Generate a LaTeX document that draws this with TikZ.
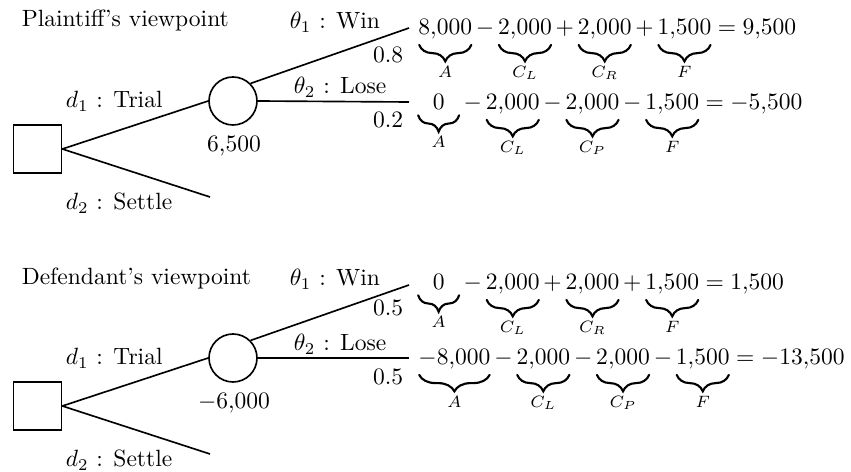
\documentclass[tikz,border=0pt]{standalone}
\usepackage{amsmath}
\usetikzlibrary{decorations.pathreplacing}
\newlength\ubwd
\makeatletter
\newcommand\ubr[2]{\settowidth\ubwd{$\displaystyle#1$}\ifdim\ubwd<18pt \ubwd=18pt\fi
  \mathop{\vtop{\m@th\hbox to\ubwd{\hfil$\displaystyle{#1}$\hfil}\nointerlineskip\kern1.8pt\nointerlineskip
  \hbox to\ubwd{\tikz[x=1pt,y=1pt,line width=0.9pt,line cap=round]{\useasboundingbox (0pt,0.45pt) rectangle (\ubwd,-7.45pt);\draw[decorate,decoration={brace,mirror,amplitude=7pt,aspect=0.5}] (0.3pt,0pt) -- (\ubwd-0.3pt,0pt);}\hss}}}\limits_{#2}}
\makeatother
\begin{document}
\begin{tikzpicture}[x=0.425pt,y=-0.425pt,line width=0.7pt,
  decbox/.style={draw,minimum size=20.4pt,inner sep=0pt},
  chance/.style={draw,circle,minimum size=20.4pt,inner sep=0pt},
  lbl/.style={inner sep=0pt,anchor=base west},
  prob/.style={inner sep=0pt,anchor=base east},
  val/.style={inner sep=0pt,anchor=base}]
\useasboundingbox (0,0) rectangle (851,472);
% ---------- Plaintiff ----------
\node[lbl] (t1) at (21,27) {Plaintiff's viewpoint};
\node[decbox] (s1) at (37.5,149) {};
\node[chance] (c1) at (233,101) {};
\coordinate (e1) at (210,197);
\coordinate (w1) at (409,28);
\coordinate (l1) at (409,102);
\draw (s1.east) -- (c1.west);
\draw (s1.east) -- (e1);
\draw (c1.north east) -- (w1);
\draw (c1.east) -- (l1);
\node[lbl] (dt1) at (65,108) {$d_1$ : Trial};
\node[lbl] (ds1) at (65,210) {$d_2$ : Settle};
\node[val] (v1) at (234,152) {6,500};
\node[lbl] (pw1) at (289,29) {$\theta_1$ : Win};
\node[lbl] (pl1) at (293,94) {$\theta_2$ : Lose};
\node[prob] (pa1) at (404,63) {0.8};
\node[prob] (pb1) at (404,128) {0.2};
\node[lbl] (ra1) at (418,35) {$\ubr{8{,}000}{A} - \ubr{2{,}000}{C_L} + \ubr{2{,}000}{C_R} + \ubr{1{,}500}{F} = 9{,}500$};
\node[lbl] (rb1) at (417,110) {$\ubr{0}{A} - \ubr{2{,}000}{C_L} - \ubr{2{,}000}{C_P} - \ubr{1{,}500}{F} = -5{,}500$};
% ---------- Defendant ----------
\node[lbl] (t2) at (21,285) {Defendant's viewpoint};
\node[decbox] (s2) at (37.5,406) {};
\node[chance] (c2) at (233,358) {};
\coordinate (e2) at (210,454);
\coordinate (w2) at (409,285);
\coordinate (l2) at (409,358);
\draw (s2.east) -- (c2.west);
\draw (s2.east) -- (e2);
\draw (c2.north east) -- (w2);
\draw (c2.east) -- (l2);
\node[lbl] (dt2) at (65,365) {$d_1$ : Trial};
\node[lbl] (ds2) at (65,467) {$d_2$ : Settle};
\node[val] (v2) at (234,409) {$-6{,}000$};
\node[lbl] (pw2) at (289,286) {$\theta_1$ : Win};
\node[lbl] (pl2) at (293,351) {$\theta_2$ : Lose};
\node[prob] (pa2) at (404,316) {0.5};
\node[prob] (pb2) at (404,385) {0.5};
\node[lbl] (ra2) at (417,290) {$\ubr{0}{A} - \ubr{2{,}000}{C_L} + \ubr{2{,}000}{C_R} + \ubr{1{,}500}{F} = 1{,}500$};
\node[lbl] (rb2) at (418,365) {$\ubr{-8{,}000}{A} - \ubr{2{,}000}{C_L} - \ubr{2{,}000}{C_P} - \ubr{1{,}500}{F} = -13{,}500$};
\end{tikzpicture}
\end{document}
